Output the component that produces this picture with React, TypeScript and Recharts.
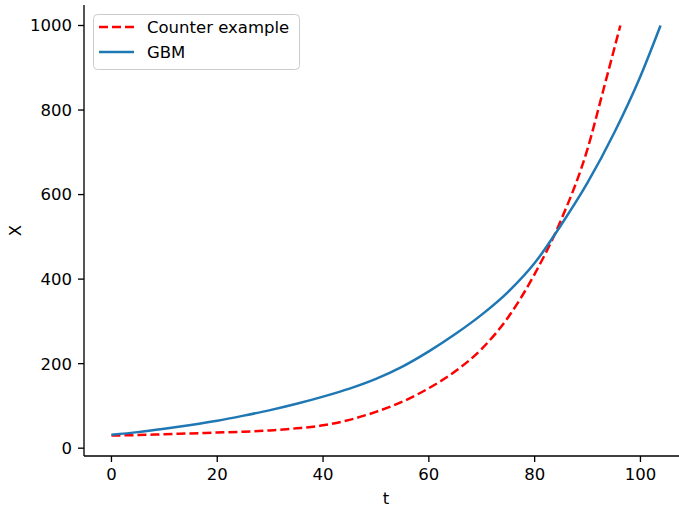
import React from "react";
import { Legend, Line, LineChart, XAxis, YAxis } from "recharts";

// values
const gbmT = [0, 5, 10, 15, 20, 25, 30, 35, 40, 45, 50, 55, 60, 65, 70, 75, 80, 85, 90, 95, 100, 103.8];
const gbmX = [32, 38, 46, 55, 65, 77, 90, 105, 122, 141, 164, 193, 229, 270, 316, 370, 438, 528, 628, 745, 880, 1000];

const counterT = [0, 5, 10, 15, 20, 25, 30, 35, 40, 45, 50, 55, 60, 65, 70, 75, 80, 85, 90, 93, 96.2];
const counterX = [30, 31, 33, 35, 37, 39, 42, 47, 54, 67, 86, 110, 142, 182, 235, 310, 412, 540, 708, 848, 1000];

const xTicks = [0, 20, 40, 60, 80, 100];
const yTicks = [0, 200, 400, 600, 800, 1000];

const gbmData = gbmT.map((t, i) => ({ t, x: gbmX[i] }));
const counterData = counterT.map((t, i) => ({ t, x: counterX[i] }));

const FONT = "DejaVu Sans";
const tickStyle = { fill: "#000", fontSize: 16.5, fontFamily: FONT };
const spine = { stroke: "#000", strokeWidth: 1.33 };

function LegendBox() {
  return (
    <svg width={208} height={57} style={{ display: "block" }}>
      <rect x={0.5} y={0.5} width={206} height={55} rx={4} fill="#fff" fillOpacity={0.8} stroke="#cccccc" />
      <line x1={6} x2={41} y1={13} y2={13} stroke="#ff0000" strokeWidth={2.5} strokeDasharray="9 4" />
      <line x1={6} x2={41} y1={38} y2={38} stroke="#1f77b4" strokeWidth={2.5} />
      <text x={54} y={13} dominantBaseline="central" fontSize={16.5} fontFamily={FONT} fill="#000">
        Counter example
      </text>
      <text x={54} y={38} dominantBaseline="central" fontSize={16.5} fontFamily={FONT} fill="#000">
        GBM
      </text>
    </svg>
  );
}

function YLabel(props: any) {
  const { x, y, height } = props.viewBox;
  const cx = x + 21;
  const cy = y + height / 2;
  return (
    <text x={cx} y={cy} transform={`rotate(-90, ${cx}, ${cy})`} textAnchor="middle" fontSize={16.5} fontFamily={FONT} fill="#000">
      X
    </text>
  );
}

function XLabel(props: any) {
  const { x, y, width } = props.viewBox;
  return (
    <text x={x + width / 2} y={y + 48} textAnchor="middle" fontSize={16.5} fontFamily={FONT} fill="#000">
      t
    </text>
  );
}

export default function App() {
  return (
    <div style={{ position: "absolute", left: 0, top: 0, width: 679, height: 509, overflow: "hidden", background: "#fff" }}>
      <LineChart width={700} height={509} margin={{ top: 5, right: 12, bottom: 0, left: 0 }}>
        <XAxis
          dataKey="t"
          type="number"
          domain={[-5.19, 108.99]}
          allowDataOverflow
          ticks={xTicks}
          tickSize={6}
          tickMargin={6}
          height={53}
          tick={tickStyle}
          tickLine={spine}
          axisLine={spine}
          label={{ content: XLabel }}
        />
        <XAxis
          xAxisId="top"
          orientation="top"
          dataKey="t"
          type="number"
          domain={[-5.19, 108.99]}
          height={0}
          tick={false}
          tickLine={false}
          axisLine={spine}
        />
        <YAxis
          type="number"
          domain={[-18.5, 1048.5]}
          allowDataOverflow
          ticks={yTicks}
          tickSize={6}
          tickMargin={6}
          width={84}
          tick={tickStyle}
          tickLine={spine}
          axisLine={spine}
          label={{ content: YLabel }}
        />
        <Legend
          layout="horizontal"
          verticalAlign="middle"
          content={() => <LegendBox />}
          wrapperStyle={{ position: "absolute", left: 93, top: 14, width: 208, height: 57 }}
        />
        <Line
          data={counterData}
          dataKey="x"
          type="monotone"
          stroke="#ff0000"
          strokeWidth={2.5}
          strokeDasharray="9 4"
          dot={false}
          activeDot={false}
          isAnimationActive={false}
        />
        <Line
          data={gbmData}
          dataKey="x"
          type="monotone"
          stroke="#1f77b4"
          strokeWidth={2.5}
          dot={false}
          activeDot={false}
          isAnimationActive={false}
        />
      </LineChart>
    </div>
  );
}
